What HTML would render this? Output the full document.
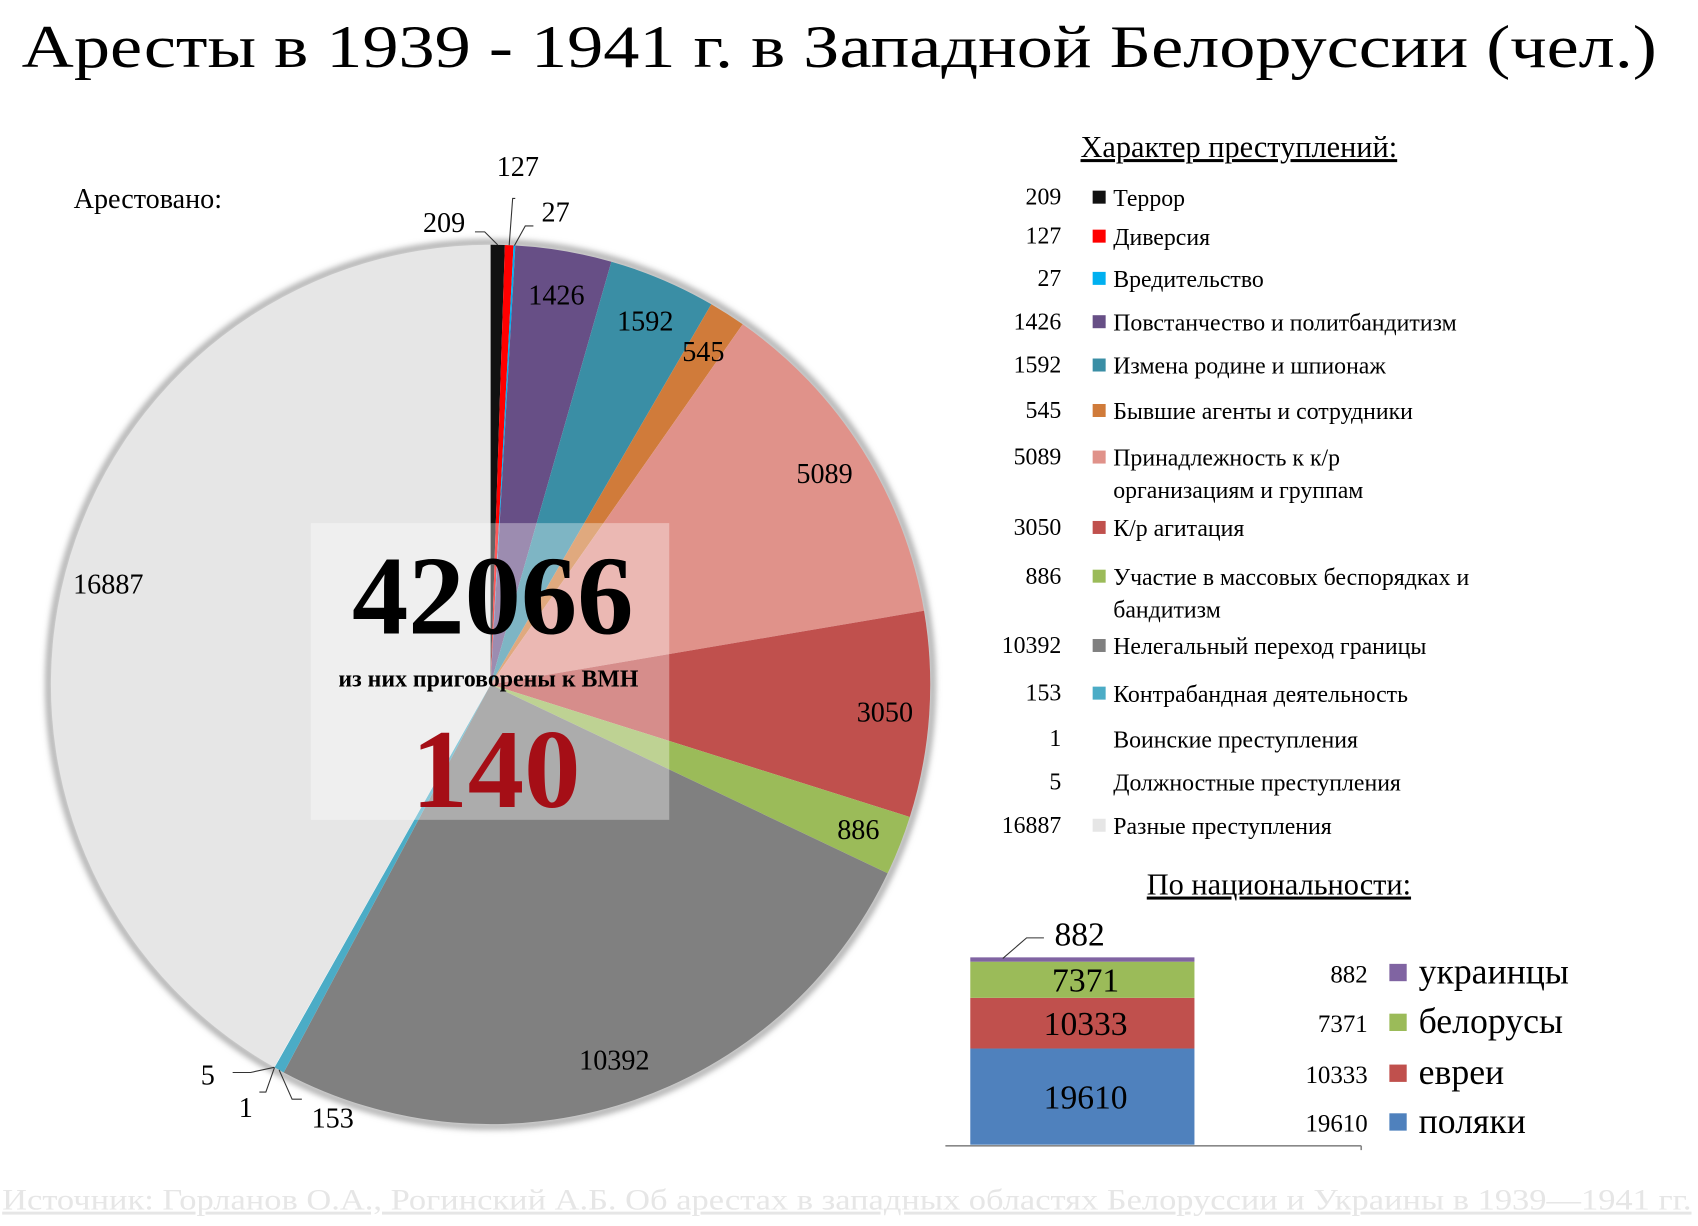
<!DOCTYPE html>
<html><head><meta charset="utf-8"><style>
html,body{margin:0;padding:0;background:#fff}
svg{display:block;font-family:"Liberation Serif",serif}
</style></head><body>
<svg id="chart" width="1698" height="1226" viewBox="0 0 1568 1132" xmlns="http://www.w3.org/2000/svg">
<defs>
<filter id="sh" x="-10%" y="-10%" width="120%" height="120%"><feGaussianBlur stdDeviation="3"/></filter>
</defs>
<text x="20" y="62" font-size="56" textLength="1510" lengthAdjust="spacingAndGlyphs">Аресты в 1939 - 1941 г. в Западной Белоруссии (чел.)</text>
<text x="68" y="192" font-size="26">Арестовано:</text>
<circle cx="453" cy="632" r="408" fill="none" stroke="#999" stroke-width="5" filter="url(#sh)"/>
<g id="pie"></g>
<g id="pielabels"></g>
<rect x="287" y="483" width="331" height="274" fill="#fff" opacity="0.35"/>
<text x="455" y="585" font-size="104" font-weight="bold" text-anchor="middle">42066</text>
<text x="451" y="634" font-size="22" font-weight="bold" text-anchor="middle">из них приговорены к ВМН</text>
<text x="458" y="745" font-size="104" font-weight="bold" fill="#a50e16" text-anchor="middle">140</text>
<text x="1144" y="145" font-size="28" text-anchor="middle" text-decoration="underline">Характер преступлений:</text>
<g id="legend"></g>
<text x="1181" y="826" font-size="28" text-anchor="middle" text-decoration="underline">По национальности:</text>
<g id="bar"></g>
<line x1="873" y1="1058" x2="1257" y2="1058" stroke="#888" stroke-width="1.5"/>
<line x1="1257" y1="1058" x2="1257" y2="1062" stroke="#888" stroke-width="1.5"/>
<g id="natlegend"></g>
<text x="2" y="1117" font-size="27" fill="#e6e6e6" text-decoration="underline" textLength="1560" lengthAdjust="spacingAndGlyphs">Источник: Горланов О.А., Рогинский А.Б. Об арестах в западных областях Белоруссии и Украины в 1939—1941 гг.</text>
</svg>
<script>
const crimeNames = ["Террор","Диверсия","Вредительство","Повстанчество и политбандитизм","Измена родине и шпионаж","Бывшие агенты и сотрудники","Принадлежность к к/р|организациям и группам","К/р агитация","Участие в массовых беспорядках и|бандитизм","Нелегальный переход границы","Контрабандная деятельность","Воинские преступления","Должностные преступления","Разные преступления"];
const crimeValues = [209,127,27,1426,1592,545,5089,3050,886,10392,153,1,5,16887];
const crimeColors = ["#111111","#ff0000","#00b0f0","#674f86","#3a8ea5","#d07b3a","#e0928a","#c0504d","#9bbb59","#808080","#4bacc6","#ffffff","#ffffff","#e6e6e6"];
const natNames = ["поляки","евреи","белорусы","украинцы"];
const natValues = [19610,10333,7371,882];
const natColors = ["#4f81bd","#c0504d","#9bbb59","#8064a2"];

const NS="http://www.w3.org/2000/svg";
function mk(tag,attrs,parent,text){const e=document.createElementNS(NS,tag);for(const k in attrs)e.setAttribute(k,attrs[k]);if(text!==undefined)e.textContent=text;parent.appendChild(e);return e;}
const cx=453,cy=632,R=406;
const total=crimeValues.reduce((a,b)=>a+b,0);
function ang(v){return v/total*2*Math.PI;}
function pt(a,r){return [cx+r*Math.sin(a),cy-r*Math.cos(a)];}
const pie=document.getElementById('pie'), pl=document.getElementById('pielabels');
let acc=0;
const outside={0:[-30,-20,"end"],1:[8,-72,"middle"],2:[25,-30,"start"],10:[30,45,"start"],11:[-20,38,"end"],12:[-55,8,"end"]};
crimeValues.forEach((v,i)=>{
  const a0=ang(acc),a1=ang(acc+v);acc+=v;
  const p0=pt(a0,R),p1=pt(a1,R);
  const large=(a1-a0)>Math.PI?1:0;
  const p=mk('path',{d:`M${cx},${cy} L${p0[0]},${p0[1]} A${R},${R} 0 ${large} 1 ${p1[0]},${p1[1]} Z`,fill:crimeColors[i]},pie);
  
  
  const am=(a0+a1)/2;
  if(outside[i]){
    const e=pt(am,R);const o=outside[i];
    const ln=mk('polyline',{points:`${e[0]},${e[1]} ${e[0]+o[0]*0.4},${e[1]+o[1]*0.6} ${e[0]+o[0]*0.7},${e[1]+o[1]*0.6}`,fill:'none',stroke:'#333','stroke-width':1},pl);
    
    
    const t=mk('text',{x:e[0]+o[0],y:e[1]+o[1]+8,'font-size':26,'text-anchor':o[2]},pl,String(v));
    
    
  } else {
    const q=pt(am,365);
    const t=mk('text',{x:q[0],y:q[1]+9,'font-size':26,'text-anchor':'middle'},pl,String(v));
    
    
  }
});
// crimes legend
const lg=document.getElementById('legend');
const rowY=[190,226,265,305,345,387,430,495,540,604,648,690,730,770];
crimeNames.forEach((n,i)=>{
  const y=rowY[i];
  const t=mk('text',{x:980,y:y-1,'font-size':22,'text-anchor':'end'},lg,String(crimeValues[i]));
  
  
  if(crimeColors[i]!=="#ffffff"){
    const s=mk('rect',{x:1009,y:y-14,width:12,height:12,fill:crimeColors[i]},lg);
    
    
  }
  n.split('|').forEach((part,j)=>{
    const tt=mk('text',{x:1028,y:y+j*30,'font-size':22},lg,part);
    
    
  });
});
// stacked bar
const bar=document.getElementById('bar');
const natTotal=natValues.reduce((a,b)=>a+b,0);
const base=1057,H=173,bx=896,bw=207;
let cum=0;
natValues.forEach((v,i)=>{
  const y1=base-cum/natTotal*H, y0=base-(cum+v)/natTotal*H; cum+=v;
  const r=mk('rect',{x:bx,y:y0,width:bw,height:y1-y0,fill:natColors[i]},bar);
  
  
  if(v/natTotal>0.05){
    const t=mk('text',{x:bx+bw/2+3,y:(y0+y1)/2+11,'font-size':31,'text-anchor':'middle'},bar,String(v));
    
    
  } else {
    const ln=mk('polyline',{points:`${bx+30},${y0+1} ${bx+52},${y0-18} ${bx+68},${y0-18}`,fill:'none',stroke:'#333','stroke-width':1},bar);
    
    
    const t=mk('text',{x:bx+101,y:y0-11,'font-size':31,'text-anchor':'middle'},bar,String(v));
    
    
  }
});
// nationality legend (top to bottom: reversed)
const nl=document.getElementById('natlegend');
const natY=[1045,1000,953,907];
natNames.forEach((n,i)=>{
  const y=natY[i];
  const t=mk('text',{x:1263,y:y,'font-size':23,'text-anchor':'end'},nl,String(natValues[i]));
  
  
  const s=mk('rect',{x:1283,y:y-17,width:16,height:16,fill:natColors[i]},nl);
  
  
  const tt=mk('text',{x:1310,y:y+1,'font-size':33},nl,n);
  
  
});
</script>
</body></html>
